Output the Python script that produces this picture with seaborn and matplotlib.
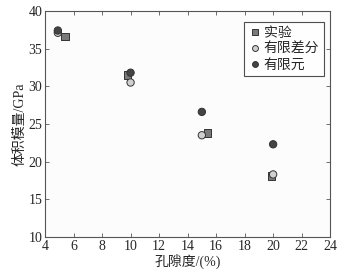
import numpy as np
import pandas as pd
import matplotlib
matplotlib.use('Agg')
import matplotlib.pyplot as plt
import seaborn as sns

# 数据
exp_x = [5.4, 9.8, 15.4, 19.9]
exp_y = [36.6, 31.5, 23.8, 18.1]
fd_x = [4.9, 10.0, 15.0, 20.0]
fd_y = [37.1, 30.5, 23.5, 18.3]
fe_x = [4.9, 10.0, 15.0, 20.0]
fe_y = [37.4, 31.8, 26.6, 22.3]
labels = ['实验', '有限差分', '有限元']

sns.set_style('ticks')
plt.rcParams['font.family'] = ['Liberation Serif', 'Noto Sans CJK SC']

df = pd.DataFrame({
    'x': exp_x + fd_x + fe_x,
    'y': exp_y + fd_y + fe_y,
    'method': [labels[0]] * 4 + [labels[1]] * 4 + [labels[2]] * 4,
})

fig = plt.figure(figsize=(3.49, 2.73), dpi=100)
fig.patch.set_facecolor('white')
ax = fig.add_axes([0.129, 0.132, 0.817, 0.828])
ax.set_facecolor('#fcfcfc')

sns.scatterplot(data=df, x='x', y='y', hue='method', style='method',
                hue_order=labels, style_order=labels,
                palette=['#7a7a7a', '#d0d0d0', '#444444'],
                markers=['s', 'o', 'o'], s=28, edgecolor='#333333',
                linewidth=0.7, ax=ax, zorder=3)

ax.set_xlim(4, 24)
ax.set_ylim(10, 40)
ax.set_xticks(range(4, 25, 2))
ax.set_yticks(range(10, 41, 5))
ax.tick_params(direction='in', top=True, right=True, labelsize=10, length=3,
               width=0.6, color='#555555', pad=2)
for sp in ax.spines.values():
    sp.set_color('#555555')
    sp.set_linewidth(0.8)

ax.set_xlabel('孔隙度/(%)', fontsize=10, labelpad=1)
ax.set_ylabel('体积模量/GPa', fontsize=10, labelpad=1)

leg = ax.legend(loc='upper right', bbox_to_anchor=(0.979, 0.951),
                fontsize=10, frameon=True, fancybox=False,
                borderpad=0.35, handletextpad=0.2, handlelength=0.9,
                labelspacing=0.2, borderaxespad=0, markerscale=0.8)
leg.get_frame().set_edgecolor('#222222')
leg.get_frame().set_linewidth(0.8)

fig.savefig('out.png', dpi=100)
